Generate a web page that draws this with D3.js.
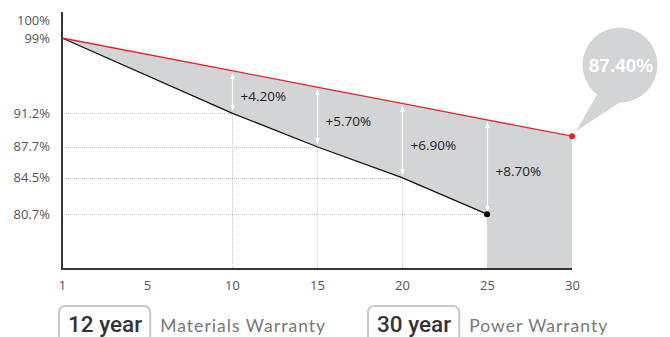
<!DOCTYPE html>
<html>
<head>
<meta charset="utf-8">
<script src="https://cdn.jsdelivr.net/npm/d3@7/dist/d3.min.js"></script>
<style>
  html, body { margin: 0; padding: 0; background: #fff; }
  svg { display: block; }
</style>
</head>
<body>
<svg id="chart" width="670" height="337"></svg>
<script>
// ---- data ----
const years = ["1", "5", "10", "15", "20", "25", "30"];
const yTickValues = [100, 99, 91.2, 87.7, 84.5, 80.7];
// upper (red) series as drawn
const redYears = ["1", "10", "15", "20", "25", "30"];
const redValues = [99, 95.6, 93.9, 92.2, 90.5, 88.8];
// lower (black) series
const blackYears = ["1", "10", "15", "20", "25"];
const blackValues = [99, 91.2, 87.7, 84.5, 80.7];
// gain labels
const gainYears = ["10", "15", "20", "25"];
const gainLabels = ["+4.20%", "+5.70%", "+6.90%", "+8.70%"];
const bubbleLabel = "87.40%";
const badges = [
  { big: "12 year", small: "Materials Warranty" },
  { big: "30 year", small: "Power Warranty" }
];

// ---- layout ----
const svg = d3.select("#chart");
const mLeft = 62, mRight = 572, mBase = 269, mTop = 12;

const x = d3.scalePoint().domain(years).range([mLeft, mRight]);
const y = d3.scaleLinear().domain([75, 99, 100]).range([mBase, 38, 20]);

const red = redYears.map((k, i) => ({ k, v: redValues[i] }));
const black = blackYears.map((k, i) => ({ k, v: blackValues[i] }));
const redAt = k => redValues[redYears.indexOf(k)];
const blackAt = k => blackValues[blackYears.indexOf(k)];

// gray area polygon
const lastB = black[black.length - 1];
const lastR = red[red.length - 1];
const poly = [];
red.forEach(d => poly.push([x(d.k), y(d.v)]));
poly.push([x(lastR.k), y(75)]);
poly.push([x(lastB.k), y(75)]);
black.slice().reverse().forEach(d => poly.push([x(d.k), y(d.v)]));
svg.append("path")
  .attr("d", "M" + poly.map(p => p.join(",")).join("L") + "Z")
  .attr("fill", "#d3d4d6");

// dotted guide lines
const guide = svg.append("g").attr("stroke", "#c4c4c4").attr("stroke-width", 1)
  .attr("stroke-dasharray", "1,1").attr("fill", "none");
black.slice(1).forEach(d => {
  guide.append("line").attr("x1", mLeft).attr("x2", x(d.k))
    .attr("y1", Math.round(y(d.v)) + 0.5).attr("y2", Math.round(y(d.v)) + 0.5);
  if (d.k !== lastB.k) {
    guide.append("line").attr("x1", Math.round(x(d.k)) + 0.5).attr("x2", Math.round(x(d.k)) + 0.5)
      .attr("y1", y(d.v)).attr("y2", mBase);
  }
});

// white arrows
const defs = svg.append("defs");
defs.append("marker").attr("id", "ah").attr("viewBox", "0 0 10 10")
  .attr("refX", 9).attr("refY", 5).attr("markerWidth", 5).attr("markerHeight", 6)
  .attr("orient", "auto-start-reverse")
  .append("path").attr("d", "M0,1L10,5L0,9Z").attr("fill", "#fff");
gainYears.forEach((k, i) => {
  const xx = Math.round(x(k)) + 0.5;
  const y1 = y(redAt(k)) + 3, y2 = y(blackAt(k)) - 3;
  svg.append("line").attr("x1", xx).attr("x2", xx).attr("y1", y1).attr("y2", y2)
    .attr("stroke", "#fff").attr("stroke-width", 1.2)
    .attr("marker-start", "url(#ah)").attr("marker-end", "url(#ah)");
  svg.append("text").attr("x", xx + 8).attr("y", (y(redAt(k)) + y(blackAt(k))) / 2 + 9)
    .attr("font-family", "Open Sans, sans-serif").attr("font-size", 13.5)
    .attr("fill", "#222").text(gainLabels[i]);
});

// lines
const line = d3.line().x(d => x(d.k)).y(d => y(d.v));
svg.append("path").datum(black).attr("d", line).attr("fill", "none")
  .attr("stroke", "#111").attr("stroke-width", 1.3);
svg.append("path").datum(red).attr("d", line).attr("fill", "none")
  .attr("stroke", "#e3242b").attr("stroke-width", 1.3);
svg.append("circle").attr("cx", x(lastB.k)).attr("cy", y(lastB.v)).attr("r", 3).attr("fill", "#000");

// bubble
const bx = 620, by = 65, br = 37.5;
const tipX = x(lastR.k) + 4, tipY = y(lastR.v) - 5;
svg.append("path")
  .attr("d", `M${bx - 22},${by + 28}L${tipX},${tipY}L${bx + 2},${by + 36}Z`)
  .attr("fill", "#d3d4d6");
svg.append("circle").attr("cx", bx).attr("cy", by).attr("r", br).attr("fill", "#d3d4d6");
svg.append("text").attr("x", bx + 1).attr("y", by + 7).attr("text-anchor", "middle")
  .attr("font-family", "Liberation Sans, Arial, sans-serif").attr("font-weight", "bold")
  .attr("font-size", 19).attr("fill", "#fff").text(bubbleLabel);
svg.append("circle").attr("cx", x(lastR.k)).attr("cy", y(lastR.v)).attr("r", 3).attr("fill", "#e3242b");

// axes
const yAxis = d3.axisLeft(y).tickValues(yTickValues).tickSize(0).tickPadding(12)
  .tickFormat(d => d + "%");
const gy = svg.append("g").attr("transform", `translate(${mLeft},0)`).call(yAxis);
gy.select(".domain").remove();
gy.selectAll("text").attr("font-family", "Open Sans, sans-serif").attr("font-size", 13).attr("fill", "#555");

const xAxis = d3.axisBottom(x).tickSize(0).tickPadding(12);
const gx = svg.append("g").attr("transform", `translate(0,${mBase})`).call(xAxis);
gx.select(".domain").remove();
gx.selectAll("text").attr("font-family", "Open Sans, sans-serif").attr("font-size", 13).attr("fill", "#555");

svg.append("line").attr("x1", mLeft).attr("x2", mLeft).attr("y1", mTop).attr("y2", mBase + 1)
  .attr("stroke", "#3b3434").attr("stroke-width", 2);
svg.append("line").attr("x1", mLeft - 1).attr("x2", mRight).attr("y1", mBase).attr("y2", mBase)
  .attr("stroke", "#3b3434").attr("stroke-width", 2);

// badges
const badgeX = [59, 368];
const smallW = [166, 139];
badges.forEach((b, i) => {
  const g = svg.append("g").attr("transform", `translate(${badgeX[i]},306)`);
  const t = g.append("text").attr("x", 9).attr("y", 25.5)
    .attr("font-family", "Roboto, sans-serif").attr("font-weight", 500).attr("font-size", 22.5)
    .attr("fill", "#333").text(b.big);
  const w = t.node().getComputedTextLength();
  g.insert("rect", "text").attr("x", 0).attr("y", 0).attr("width", w + 17).attr("height", 45)
    .attr("rx", 6).attr("fill", "none").attr("stroke", "#c9c9c9").attr("stroke-width", 2);
  const s = g.append("text").attr("x", w + 27).attr("y", 25.5)
    .attr("font-family", "Lato, sans-serif").attr("font-size", 17.5)
    .attr("fill", "#777").text(b.small);
  const sw = s.node().getComputedTextLength();
  const n = b.small.length;
  s.attr("letter-spacing", Math.max(0, (smallW[i] - sw) / n));
});
</script>
</body>
</html>
